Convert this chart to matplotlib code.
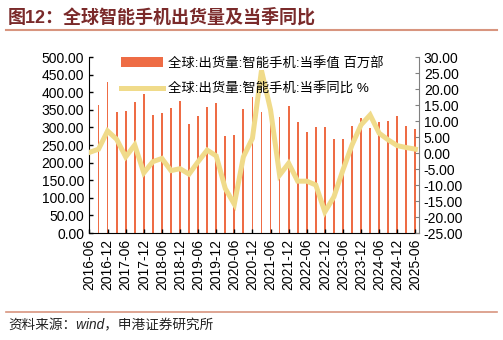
import matplotlib
matplotlib.use("Agg")
import matplotlib.pyplot as plt
import numpy as np

plt.rcParams['font.family'] = ['Liberation Sans', 'Noto Sans CJK SC', 'DejaVu Sans']
plt.rcParams['axes.unicode_minus'] = False

# quarterly data, 2016-06 .. 2025-06
quarters = ['2016-06', '2016-09', '2016-12', '2017-03', '2017-06', '2017-09', '2017-12',
            '2018-03', '2018-06', '2018-09', '2018-12', '2019-03', '2019-06', '2019-09',
            '2019-12', '2020-03', '2020-06', '2020-09', '2020-12', '2021-03', '2021-06',
            '2021-09', '2021-12', '2022-03', '2022-06', '2022-09', '2022-12', '2023-03',
            '2023-06', '2023-09', '2023-12', '2024-03', '2024-06', '2024-09', '2024-12',
            '2025-03', '2025-06']
shipments = [347, 363, 430, 344, 347, 373, 395, 335, 342, 355, 375, 311, 333,
             358, 369, 276, 279, 353, 385, 345, 314, 331, 362, 314, 286,
             301, 300, 268, 266, 304, 326, 299, 316, 318, 333, 305, 295]
yoy = [0.2, 1.2, 6.9, 4.3, -1.2, 2.5, -6.2, -2.7, -1.7, -5.5, -4.9, -6.6, -2.7,
       0.9, -0.9, -11.1, -16.0, -1.2, 4.6, 25.8, 13.5, -6.9, -3.2, -8.8, -8.8,
       -10.0, -18.4, -13.7, -5.3, 2.5, 8.8, 11.9, 6.2, 4.1, 2.3, 1.7, 1.2]

bar_color = '#EE6C45'
line_color = '#F0DB8A'

fig = plt.figure(figsize=(5.03, 3.40), dpi=100)
ax = fig.add_axes([0.177, 0.3147, 0.656, 0.5176])
x = np.arange(len(quarters))
ax.bar(x, shipments, width=0.2, color=bar_color, label='全球:出货量:智能手机:当季值 百万部')
ax.set_ylim(0, 500)
ax.set_yticks(np.arange(0, 501, 50))
ax.set_yticklabels([f'{v:.2f}' for v in np.arange(0, 501, 50)])
ax.set_xlim(-0.05, 36.4)
ax.set_xticks(x[::2])
ax.set_xticklabels(quarters[::2], rotation=90)
ax.tick_params(axis='both', direction='in', length=3, labelsize=10, width=1)
ax.tick_params(axis='x', pad=4)
ax.spines['top'].set_visible(False)
ax.spines['right'].set_visible(False)

ax2 = ax.twinx()
ax2.plot(x, yoy, color=line_color, linewidth=3.6, solid_joinstyle='miter',
         label='全球:出货量:智能手机:当季同比 %')
ax2.set_ylim(-25, 30)
ax2.set_yticks(np.arange(-25, 31, 5))
ax2.set_yticklabels([f'{v:.2f}' for v in np.arange(-25, 31, 5)])
ax2.tick_params(axis='y', direction='in', length=3, labelsize=10, color='#808080')
ax2.spines['right'].set_color('#808080')
for s in ['top', 'left', 'bottom']:
    ax2.spines[s].set_visible(False)

h1, l1 = ax.get_legend_handles_labels()
h2, l2 = ax2.get_legend_handles_labels()
ax2.legend(h1 + h2, l1 + l2, loc='upper left', bbox_to_anchor=(0.062, 1.07),
           frameon=False, fontsize=9.6, handlelength=3.1, handletextpad=0.4,
           labelspacing=1.0)

# title and source
fig.text(0.016, 0.948, '图12：全球智能手机出货量及当季同比', fontsize=13, fontweight='bold',
         color='#7A2A2A', va='center', ha='left')
fig.add_artist(plt.Line2D([0.012, 0.988], [0.912, 0.912], color='#D8957F', linewidth=1.5))
fig.add_artist(plt.Line2D([0.012, 0.988], [0.083, 0.083], color='#D8957F', linewidth=1.2))
fig.text(0.016, 0.043, '资料来源：wind，申港证券研究所', fontsize=9.8, style='italic',
         color='#222222', va='center', ha='left')

fig.savefig('out.png', dpi=100)
